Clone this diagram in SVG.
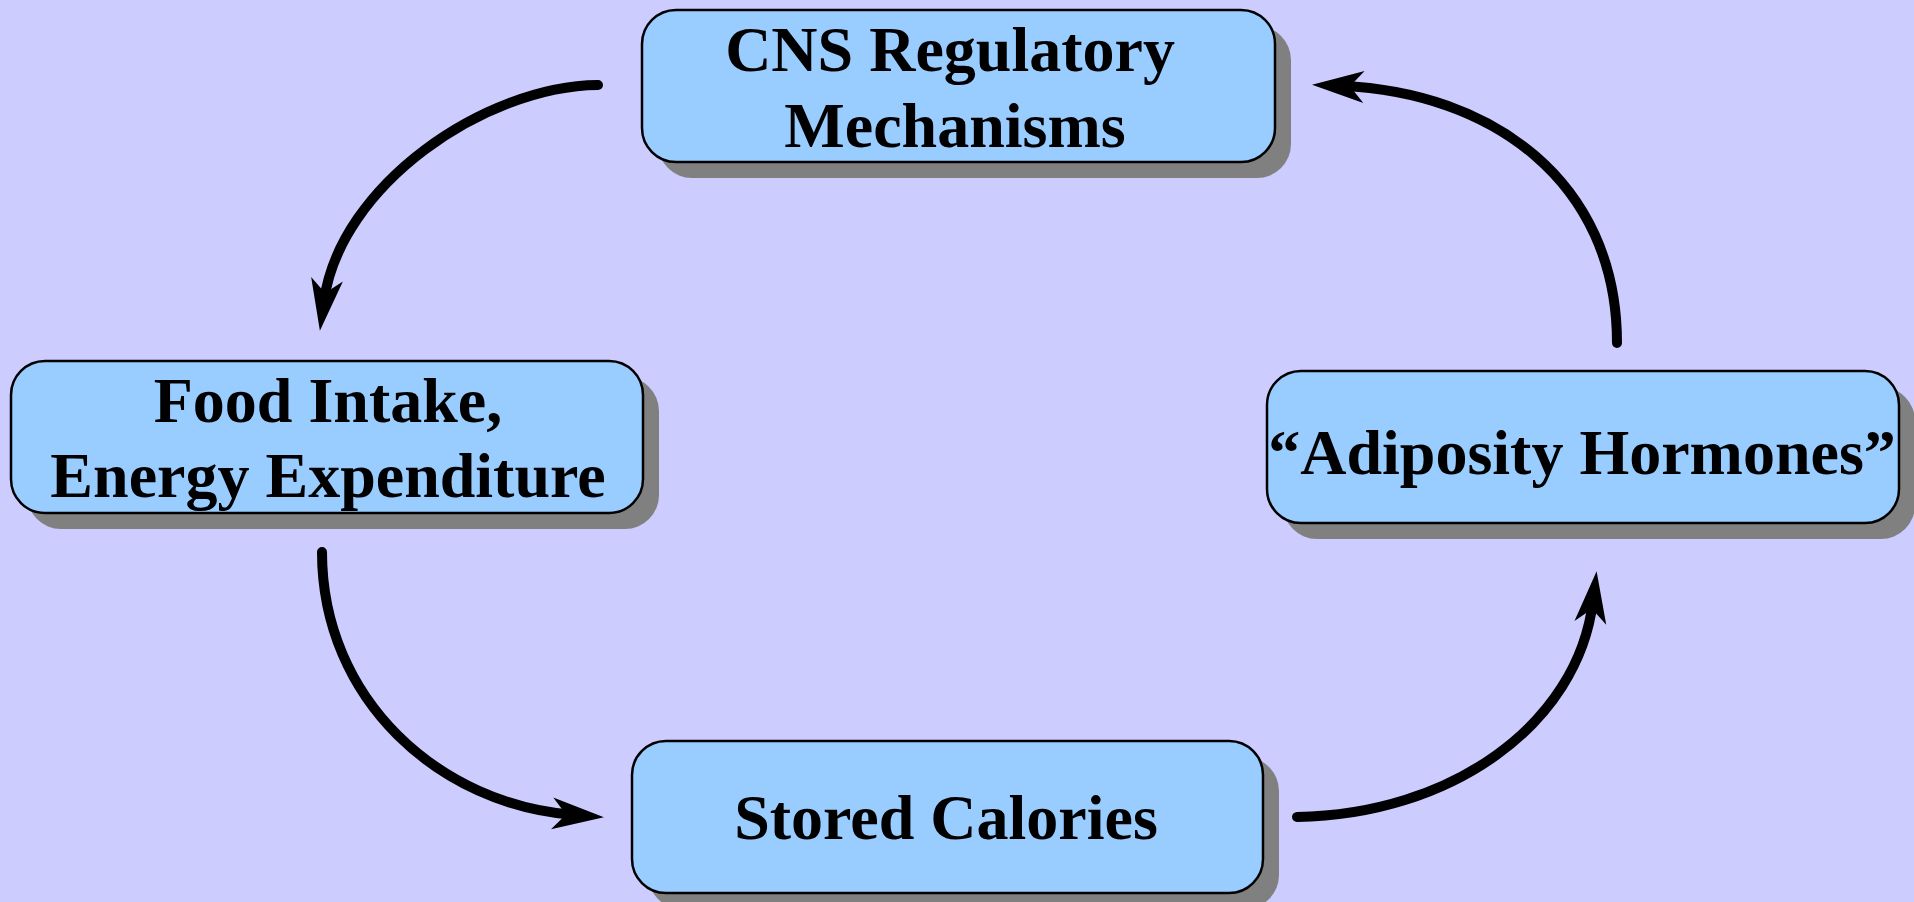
<svg xmlns="http://www.w3.org/2000/svg" width="1914" height="902" viewBox="0 0 1914 902">
<style>
.shadow{fill:#808080;stroke:none}
.box{fill:#99CCFF;stroke:#000;stroke-width:2.5}
.lbl{font-family:"Liberation Serif","Times New Roman",serif;font-weight:bold;font-size:64px;fill:#000;text-anchor:middle}
.conn{fill:none;stroke:#000;stroke-width:10;stroke-linecap:round;marker-end:url(#ah)}
</style>
<defs>
<marker id="ah" markerUnits="userSpaceOnUse" markerWidth="60" markerHeight="40" viewBox="0 -20 60 40" refX="22" refY="0" orient="auto">
<path d="M0,-16 L52,0 L0,16 L14,0 Z" fill="#000"/>
</marker>
</defs>
<rect x="0" y="0" width="1914" height="902" fill="#CCCCFF"/>
<g id="node-cns">
<rect class="shadow" x="658" y="26" width="633" height="152" rx="34"/>
<rect class="box" x="642" y="10" width="633" height="152" rx="34"/>
<text class="lbl" x="950" y="71">CNS Regulatory</text>
<text class="lbl" x="955" y="147">Mechanisms</text>
</g>
<g id="node-food">
<rect class="shadow" x="27" y="377" width="632" height="152" rx="34"/>
<rect class="box" x="11" y="361" width="632" height="152" rx="34"/>
<text class="lbl" x="328" y="422">Food Intake,</text>
<text class="lbl" x="328" y="497">Energy Expenditure</text>
</g>
<g id="node-adiposity">
<rect class="shadow" x="1283" y="387" width="632" height="152" rx="34"/>
<rect class="box" x="1267" y="371" width="632" height="152" rx="34"/>
<text class="lbl" x="1582" y="474">“Adiposity Hormones”</text>
</g>
<g id="node-stored">
<rect class="shadow" x="648" y="757" width="631" height="152" rx="34"/>
<rect class="box" x="632" y="741" width="631" height="152" rx="34"/>
<text class="lbl" x="946" y="839">Stored Calories</text>
</g>
<g id="connectors">
<path class="conn" d="M598,85 C485,86 340,185 324,301"/>
<path class="conn" d="M322,552 C322,700 440,805 574,815"/>
<path class="conn" d="M1297,817 C1450,815 1578,725 1593,601"/>
<path class="conn" d="M1617,343 C1617,180 1490,92 1342,86"/>
</g>
</svg>
